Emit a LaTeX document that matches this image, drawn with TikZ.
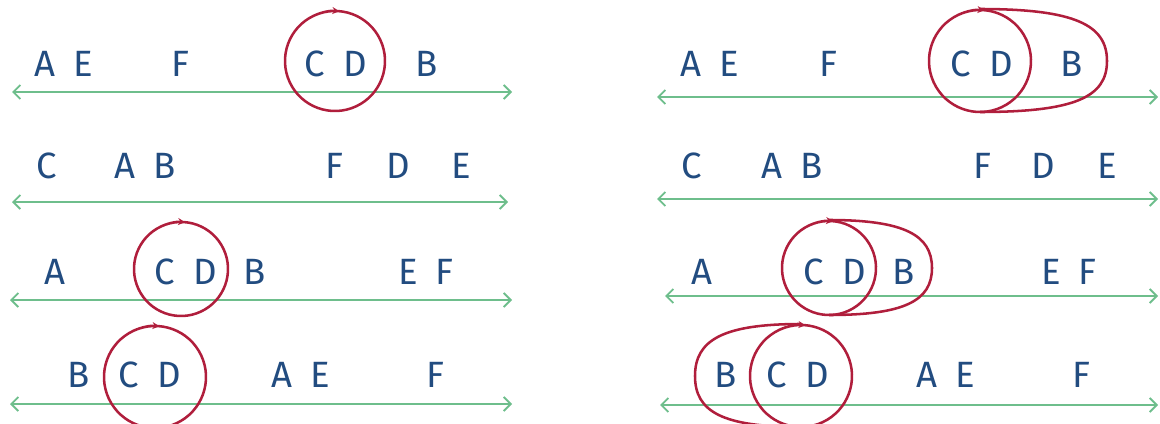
\documentclass[tikz,border=0pt]{standalone}
\usepackage{fontspec}
\setmainfont{Fira Sans}
\usetikzlibrary{arrows.meta}

\definecolor{encre}{RGB}{34,76,128}
\definecolor{rouge}{RGB}{176,30,60}
\definecolor{vert}{RGB}{110,190,140}

\begin{document}
\begin{tikzpicture}[x=0.025cm, y=0.025cm,
  lettre/.style={text=encre, font=\fontsize{26}{26}\selectfont, inner sep=0pt},
  axe/.style={vert, line width=1.3pt, {Straight Barb[length=5pt]}-{Straight Barb[length=5pt]}},
  boucle/.style={rouge, line width=1.8pt},
  tour/.style={boucle, -{Stealth[length=5pt, width=5pt]}}]
  \useasboundingbox (0,0) rectangle (1160,423);

  % Colonne de gauche : les quatre axes
  \coordinate (g1) at (12,331);  \coordinate (d1) at (512,331);
  \coordinate (g2) at (12,221);  \coordinate (d2) at (508,221);
  \coordinate (g3) at (10,123);  \coordinate (d3) at (512,123);
  \coordinate (g4) at (10,19);   \coordinate (d4) at (512,19);
  \draw[axe] (g1) -- (d1);
  \draw[axe] (g2) -- (d2);
  \draw[axe] (g3) -- (d3);
  \draw[axe] (g4) -- (d4);

  % Lettres (gauche)
  \node[lettre] (l1ae) at (64,359)  {A\enspace E};
  \node[lettre] (l1f)  at (180,359) {F};
  \node[lettre] (l1cd) at (336,359) {C\enspace D};
  \node[lettre] (l1b)  at (427,359) {B};

  \node[lettre] (l2c)  at (47,257)  {C};
  \node[lettre] (l2ab) at (145,257) {A\enspace B};
  \node[lettre] (l2f)  at (334,257) {F};
  \node[lettre] (l2d)  at (398,257) {D};
  \node[lettre] (l2e)  at (461,257) {E};

  \node[lettre] (l3a)  at (55,151)  {A};
  \node[lettre] (l3cd) at (186,151) {C\enspace D};
  \node[lettre] (l3b)  at (255,151) {B};
  \node[lettre] (l3ef) at (426,151) {E\enspace F};

  \node[lettre] (l4b)  at (79,48)   {B};
  \node[lettre] (l4cd) at (150,48)  {C\enspace D};
  \node[lettre] (l4ae) at (301,48)  {A\enspace E};
  \node[lettre] (l4f)  at (435,48)  {F};

  % Cercles autour de C D (gauche)
  \coordinate (cl1) at (335,362);
  \coordinate (cl3) at (181,154);
  \coordinate (cl4) at (155,46);
  \draw[tour] (cl1) ++(115:50) arc[start angle=115, end angle=-275, radius=50];
  \draw[tour] (cl3) ++(115:47) arc[start angle=115, end angle=-275, radius=47];
  \draw[tour] (cl4) ++(115:51) arc[start angle=115, end angle=-275, radius=51];

  % Colonne de droite : les quatre axes
  \coordinate (g5) at (657,326);  \coordinate (d5) at (1158,326);
  \coordinate (g6) at (657,224);  \coordinate (d6) at (1158,224);
  \coordinate (g7) at (665,127);  \coordinate (d7) at (1158,127);
  \coordinate (g8) at (660,18);   \coordinate (d8) at (1158,18);
  \draw[axe] (g5) -- (d5);
  \draw[axe] (g6) -- (d6);
  \draw[axe] (g7) -- (d7);
  \draw[axe] (g8) -- (d8);

  % Lettres (droite)
  \node[lettre] (r1ae) at (710,359)  {A\enspace E};
  \node[lettre] (r1f)  at (828,359)  {F};
  \node[lettre] (r1cd) at (982,359)  {C\enspace D};
  \node[lettre] (r1b)  at (1072,359) {B};

  \node[lettre] (r2c)  at (692,257)  {C};
  \node[lettre] (r2ab) at (792,257)  {A\enspace B};
  \node[lettre] (r2f)  at (982,257)  {F};
  \node[lettre] (r2d)  at (1043,257) {D};
  \node[lettre] (r2e)  at (1107,257) {E};

  \node[lettre] (r3a)  at (702,151)  {A};
  \node[lettre] (r3cd) at (835,151)  {C\enspace D};
  \node[lettre] (r3b)  at (904,151)  {B};
  \node[lettre] (r3ef) at (1069,151) {E\enspace F};

  \node[lettre] (r4b)  at (726,48)   {B};
  \node[lettre] (r4cd) at (798,48)   {C\enspace D};
  \node[lettre] (r4ae) at (946,48)   {A\enspace E};
  \node[lettre] (r4f)  at (1081,48)  {F};

  % Cercles et boucles élargies (droite)
  \coordinate (cr1) at (980,362);
  \coordinate (cr3) at (829,155);
  \coordinate (cr4) at (801,47);
  \draw[tour] (cr1) ++(115:51) arc[start angle=115, end angle=-275, radius=51];
  \draw[boucle] (cr1) ++(0,52) .. controls +(95,0) and +(0,36) .. ++(127,-52)
                 .. controls +(0,-36) and +(95,0) .. ++(-127,-51);
  \draw[tour] (cr3) ++(115:47) arc[start angle=115, end angle=-275, radius=47];
  \draw[boucle] (cr3) ++(0,48) .. controls +(75,0) and +(0,33) .. ++(103,-48)
                 .. controls +(0,-33) and +(75,0) .. ++(-103,-47);
  \draw[tour] (cr4) ++(115:51) arc[start angle=115, end angle=-275, radius=51];
  \draw[boucle] (cr4) ++(0,52) .. controls +(-78,0) and +(0,36) .. ++(-106,-52)
                 .. controls +(0,-36) and +(-78,0) .. ++(106,-51);
\end{tikzpicture}
\end{document}
